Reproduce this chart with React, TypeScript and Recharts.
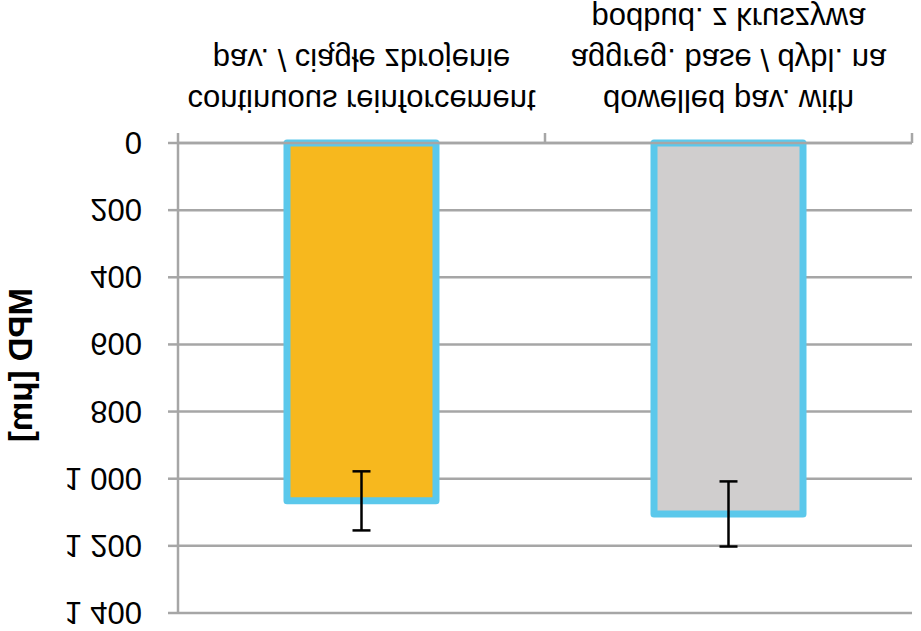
import React from 'react';
import { BarChart, Bar, XAxis, YAxis, CartesianGrid, Cell, ErrorBar } from 'recharts';

// the reference picture is mirrored top-to-bottom, so the chart is drawn upright and flipped as a whole
const categories = ['cont', 'dowel'];
const categoryLines = [
  ['continuous reinforcement', 'pav. / ciągłe zbrojenie'],
  ['dowelled pav. with', 'aggreg. base / dybl. na', 'podbud. z kruszywa'],
];
const mpdValues = [1066, 1105];
const mpdErrors = [88, 97];
const barColors = ['#F7B81E', '#D0CECE'];
const yTicks = [0, 200, 400, 600, 800, 1000, 1200, 1400];

const data = categories.map((name, i) => ({
  name,
  lines: categoryLines[i],
  mpd: mpdValues[i],
  err: mpdErrors[i],
}));

const FONT = '"Liberation Sans", Arial, sans-serif';
const GRID = '#A6A6A6';

function CategoryTick(props: any) {
  const { x, y, payload, index, visibleTicksCount, width } = props;
  const half = payload?.offset ?? width / visibleTicksCount / 2;
  const lines: string[] = data[index]?.lines ?? [];
  const isLast = index === visibleTicksCount - 1;
  return (
    <g>
      <line x1={x - half} y1={y} x2={x - half} y2={y + 10} stroke={GRID} strokeWidth={2.5} />
      {isLast && <line x1={x + half} y1={y} x2={x + half} y2={y + 10} stroke={GRID} strokeWidth={2.5} />}
      <text x={x} y={y} textAnchor="middle" fontSize={31} fill="#000" fontFamily={FONT}>
        {lines.map((t, i) => (
          <tspan key={i} x={x} dy={i === 0 ? 53 : 41}>
            {t}
          </tspan>
        ))}
      </text>
    </g>
  );
}

function AxisTitle(props: any) {
  const { viewBox } = props;
  const cx = viewBox.x + 20;
  const cy = viewBox.y + viewBox.height / 2 + 13;
  return (
    <text
      x={cx}
      y={cy}
      transform={`rotate(-90, ${cx}, ${cy})`}
      textAnchor="middle"
      dominantBaseline="central"
      fontSize={33}
      fontWeight="bold"
      fill="#000"
      fontFamily={FONT}
    >
      MPD [μm]
    </text>
  );
}

export default function App() {
  return (
    <div
      style={{
        position: 'absolute',
        top: 0,
        left: 0,
        width: 921,
        height: 631,
        background: '#fff',
        transform: 'scaleY(-1)',
      }}
    >
      <BarChart
        width={921}
        height={631}
        data={data}
        margin={{ top: 18, right: 9, bottom: 0, left: 0 }}
        barCategoryGap="29.7%"
        style={{ fontFamily: FONT }}
      >
        <CartesianGrid vertical={false} stroke={GRID} strokeWidth={2.5} />
        <XAxis
          dataKey="name"
          height={143}
          interval={0}
          tickLine={false}
          tickSize={0}
          tickMargin={0}
          axisLine={{ stroke: GRID, strokeWidth: 2.5 }}
          tick={<CategoryTick />}
        />
        <YAxis
          width={178}
          domain={[0, 1400]}
          ticks={yTicks}
          interval={0}
          tickSize={10}
          tickMargin={26}
          axisLine={{ stroke: GRID, strokeWidth: 2.5 }}
          tickLine={{ stroke: GRID, strokeWidth: 2.5 }}
          tick={{ fontSize: 31, fill: '#000', fontFamily: FONT }}
          tickFormatter={(v: number) => (v >= 1000 ? `${Math.floor(v / 1000)} ${String(v % 1000).padStart(3, '0')}` : String(v))}
          label={<AxisTitle />}
        />
        <Bar dataKey="mpd" stroke="#5BC8EB" strokeWidth={7} strokeLinejoin="round" isAnimationActive={false}>
          {data.map((d, i) => (
            <Cell key={d.name} fill={barColors[i]} />
          ))}
          <ErrorBar dataKey="err" width={9} stroke="#000" strokeWidth={2.5} direction="y" isAnimationActive={false} />
        </Bar>
      </BarChart>
    </div>
  );
}
